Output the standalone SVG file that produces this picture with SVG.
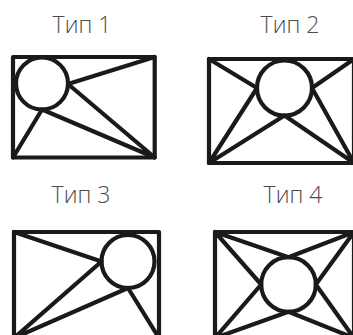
<svg xmlns="http://www.w3.org/2000/svg" width="353" height="335" viewBox="0 0 353 335">
<style>
.lbl{font-family:"Open Sans","Noto Sans","Liberation Sans",sans-serif;font-weight:300;font-size:23px;fill:#4a4a4a;text-anchor:middle}
.sh{fill:none;stroke:#1a1a1a;stroke-width:4.2;stroke-linejoin:round;stroke-linecap:round}
</style>
<rect width="353" height="335" fill="#fff"/>
<g id="type1">
<text class="lbl" x="82" y="33">Тип 1</text>
<rect class="sh" x="13" y="57" width="141.7" height="100.5"/>
<circle class="sh" cx="42" cy="83.5" r="26"/>
<g class="sh"><path d="M154.7 57L68 84L154.7 157.5M13 157.5L42 109.5L154.7 157.5"/></g>
</g>
<g id="type2">
<text class="lbl" x="290" y="33">Тип 2</text>
<rect class="sh" x="209" y="59" width="145" height="104"/>
<circle class="sh" cx="284.5" cy="88" r="27.5"/>
<g class="sh"><path d="M209 59L257 88L209 163L284.5 115.5L354 163L312 88L354 59"/></g>
</g>
<g id="type3">
<text class="lbl" x="81" y="203">Тип 3</text>
<rect class="sh" x="14" y="232" width="145" height="106"/>
<circle class="sh" cx="128" cy="261.5" r="26.5"/>
<g class="sh"><path d="M14 232L101.5 261.5L14 338L128 288L159 338"/></g>
</g>
<g id="type4">
<text class="lbl" x="293" y="203">Тип 4</text>
<rect class="sh" x="215" y="232" width="139" height="106"/>
<circle class="sh" cx="288.5" cy="284.5" r="27.3"/>
<g class="sh"><path d="M354 232L288.5 257.2L215 232L261.2 284.5L215 338L288.5 311.8L354 338L315.8 284.5L354 232"/></g>
</g>
</svg>
